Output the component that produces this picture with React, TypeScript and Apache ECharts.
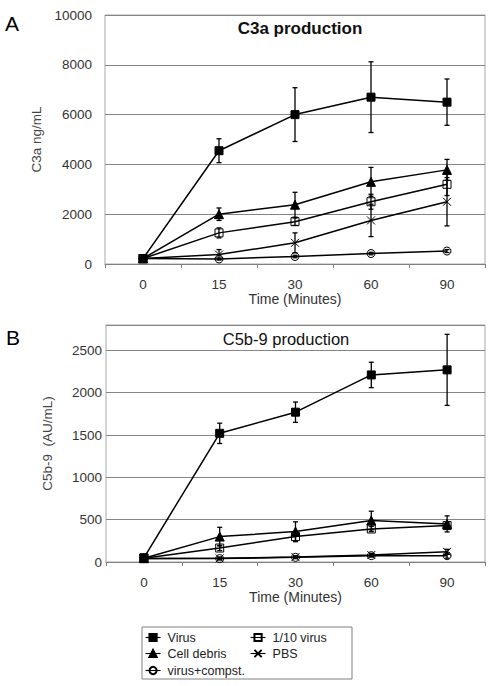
import React, { useEffect, useRef } from "react";
import * as echarts from "echarts";

const categories = ["0", "15", "30", "60", "90"];

const seriesNames = ["Virus", "Cell debris", "1/10 virus", "PBS", "virus+compst."];

// C3a production (ng/mL)
const c3aVirus = [220, 4550, 6000, 6700, 6500];
const c3aVirusErr = [60, 480, 1080, 1420, 930];
const c3aCellDebris = [220, 2000, 2380, 3300, 3780];
const c3aCellDebrisErr = [40, 250, 500, 580, 420];
const c3aTenthVirus = [220, 1250, 1700, 2500, 3200];
const c3aTenthVirusErr = [40, 200, 150, 300, 450];
const c3aPBS = [220, 380, 850, 1750, 2500];
const c3aPBSErr = [40, 200, 400, 650, 970];
const c3aCompst = [220, 200, 300, 420, 520];
const c3aCompstErr = [40, 40, 50, 50, 60];

// C5b-9 production (AU/mL)
const c5bVirus = [50, 1520, 1770, 2210, 2270];
const c5bVirusErr = [20, 120, 120, 150, 420];
const c5bCellDebris = [45, 300, 360, 490, 450];
const c5bCellDebrisErr = [20, 110, 115, 110, 95];
const c5bTenthVirus = [45, 165, 300, 390, 430];
const c5bTenthVirusErr = [20, 30, 60, 30, 40];
const c5bPBS = [40, 43, 58, 82, 120];
const c5bPBSErr = [15, 15, 15, 20, 30];
const c5bCompst = [40, 40, 55, 75, 75];
const c5bCompstErr = [15, 15, 15, 15, 30];

const FONT = "'Liberation Sans', Arial, sans-serif";
const X_PATH = "path://M0,0L10,10M0,10L10,0";

const styles: Record<string, any> = {
  "Virus": { symbol: "rect", symbolSize: 8, itemStyle: { color: "#000", borderColor: "#000", borderWidth: 1 } },
  "Cell debris": { symbol: "triangle", symbolSize: 9, itemStyle: { color: "#000", borderColor: "#000", borderWidth: 1 } },
  "1/10 virus": { symbol: "rect", symbolSize: 8, itemStyle: { color: "rgba(0,0,0,0)", borderColor: "#000", borderWidth: 1 } },
  "PBS": { symbol: X_PATH, symbolSize: 8, itemStyle: { color: "rgba(0,0,0,0)", borderColor: "#000", borderWidth: 1 } },
  "virus+compst.": { symbol: "circle", symbolSize: 8, itemStyle: { color: "rgba(0,0,0,0)", borderColor: "#000", borderWidth: 1 } },
};

function lineSeries(name: string, data: number[], idx: number) {
  const s = styles[name];
  return {
    type: "line",
    name,
    xAxisIndex: idx,
    yAxisIndex: idx,
    data,
    symbol: s.symbol,
    symbolSize: s.symbolSize,
    showAllSymbol: true,
    itemStyle: s.itemStyle,
    lineStyle: { color: "#000", width: 1.5 },
    z: 3,
    emphasis: { disabled: true },
  };
}

function errSeries(vals: number[], errs: number[], idx: number) {
  return {
    type: "custom",
    xAxisIndex: idx,
    yAxisIndex: idx,
    data: vals.map((v, i) => [i, v - errs[i], v + errs[i]]),
    encode: { x: 0, y: [1, 2] },
    z: 4,
    silent: true,
    renderItem: (params: any, api: any) => {
      const x = api.value(0);
      const hi = api.coord([x, api.value(2)]);
      const lo = api.coord([x, api.value(1)]);
      const w = 2.5;
      const st = { stroke: "#000", lineWidth: 1.3 };
      return {
        type: "group",
        children: [
          { type: "line", shape: { x1: hi[0], y1: hi[1], x2: lo[0], y2: lo[1] }, style: st },
          { type: "line", shape: { x1: hi[0] - w, y1: hi[1], x2: hi[0] + w, y2: hi[1] }, style: st },
          { type: "line", shape: { x1: lo[0] - w, y1: lo[1], x2: lo[0] + w, y2: lo[1] }, style: st },
        ],
      };
    },
  };
}

function legendItem(name: string, left: number, top: number) {
  return {
    data: [name],
    left,
    top,
    padding: 0,
    itemWidth: 15,
    itemHeight: 9,
    itemGap: 0,
    selectedMode: false,
    lineStyle: { width: 1.1 },
    textStyle: { fontFamily: FONT, fontSize: 12.5, color: "#222", padding: [0, 0, 0, 2] },
  };
}

const plainNumber = (v: number) => String(v);

export default function App() {
  const ref = useRef<HTMLDivElement>(null);
  useEffect(() => {
    if (!ref.current) return;
    const chart = echarts.init(ref.current, undefined, { renderer: "svg" });
    const xAxisBase = (idx: number, nameGap: number) => ({
      type: "category",
      gridIndex: idx,
      data: categories,
      boundaryGap: true,
      axisLine: { show: true, lineStyle: { color: "#808080", width: 1 } },
      axisTick: { show: true, alignWithLabel: false, length: 4, lineStyle: { color: "#808080" } },
      axisLabel: { color: "#333", fontFamily: FONT, fontSize: 13.5, margin: 13 },
      name: "Time (Minutes)",
      nameLocation: "middle",
      nameGap,
      nameTextStyle: { color: "#333", fontFamily: FONT, fontSize: 14 },
    });
    const option: any = {
      animation: false,
      backgroundColor: "#fff",
      textStyle: { fontFamily: FONT },
      grid: [
        { left: 105, right: 10, top: 15, height: 249, show: true, borderColor: "#a8a8a8", borderWidth: 1, backgroundColor: "transparent" },
        { left: 106, right: 10, top: 325, height: 237, show: true, borderColor: "#a8a8a8", borderWidth: 1, backgroundColor: "transparent" },
      ],
      xAxis: [xAxisBase(0, 27), xAxisBase(1, 26)],
      yAxis: [
        {
          type: "value",
          gridIndex: 0,
          min: 0,
          max: 10000,
          interval: 2000,
          axisLine: { show: false },
          axisTick: { show: false },
          splitLine: { lineStyle: { color: "#858585", width: 1 } },
          axisLabel: { color: "#333", fontFamily: FONT, fontSize: 13.5, margin: 13, formatter: plainNumber },
          name: "C3a ng/mL",
          nameLocation: "middle",
          nameRotate: 90,
          nameGap: 57,
          nameTextStyle: { color: "#444", fontFamily: FONT, fontSize: 13.5 },
        },
        {
          type: "value",
          gridIndex: 1,
          min: 0,
          max: 2800,
          interval: 500,
          axisLine: { show: false },
          axisTick: { show: false },
          splitLine: { lineStyle: { color: "#858585", width: 1 } },
          axisLabel: { color: "#333", fontFamily: FONT, fontSize: 13.5, margin: 4, showMaxLabel: false, formatter: plainNumber },
          name: "C5b-9  (AU/mL)",
          nameLocation: "middle",
          nameRotate: 90,
          nameGap: 52,
          nameTextStyle: { color: "#444", fontFamily: FONT, fontSize: 13.5 },
        },
      ],
      legend: [
        legendItem("Virus", 145, 631),
        legendItem("1/10 virus", 250, 631),
        legendItem("Cell debris", 145, 647),
        legendItem("PBS", 250, 647),
        legendItem("virus+compst.", 145, 664),
      ],
      graphic: [
        { type: "text", x: 5, y: 23, style: { text: "A", fontFamily: FONT, fontSize: 21, fill: "#000", textVerticalAlign: "middle" } },
        { type: "text", x: 6, y: 337, style: { text: "B", fontFamily: FONT, fontSize: 21, fill: "#000", textVerticalAlign: "middle" } },
        { type: "text", x: 300, y: 28, style: { text: "C3a production", fontFamily: FONT, fontSize: 17, fontWeight: "bold", fill: "#111", textAlign: "center", textVerticalAlign: "middle" } },
        { type: "text", x: 286, y: 339, style: { text: "C5b-9 production", fontFamily: FONT, fontSize: 16.5, fill: "#111", textAlign: "center", textVerticalAlign: "middle" } },
        { type: "rect", shape: { x: 142, y: 627, width: 210, height: 52 }, style: { fill: "none", stroke: "#808080", lineWidth: 1 } },
      ],
      series: [
        lineSeries(seriesNames[0], c3aVirus, 0),
        lineSeries(seriesNames[1], c3aCellDebris, 0),
        lineSeries(seriesNames[2], c3aTenthVirus, 0),
        lineSeries(seriesNames[3], c3aPBS, 0),
        lineSeries(seriesNames[4], c3aCompst, 0),
        errSeries(c3aVirus, c3aVirusErr, 0),
        errSeries(c3aCellDebris, c3aCellDebrisErr, 0),
        errSeries(c3aTenthVirus, c3aTenthVirusErr, 0),
        errSeries(c3aPBS, c3aPBSErr, 0),
        errSeries(c3aCompst, c3aCompstErr, 0),
        lineSeries(seriesNames[0], c5bVirus, 1),
        lineSeries(seriesNames[1], c5bCellDebris, 1),
        lineSeries(seriesNames[2], c5bTenthVirus, 1),
        lineSeries(seriesNames[3], c5bPBS, 1),
        lineSeries(seriesNames[4], c5bCompst, 1),
        errSeries(c5bVirus, c5bVirusErr, 1),
        errSeries(c5bCellDebris, c5bCellDebrisErr, 1),
        errSeries(c5bTenthVirus, c5bTenthVirusErr, 1),
        errSeries(c5bPBS, c5bPBSErr, 1),
        errSeries(c5bCompst, c5bCompstErr, 1),
      ],
    };
    chart.setOption(option);
    return () => chart.dispose();
  }, []);
  return (
    <div
      ref={ref}
      style={{ position: "absolute", left: 0, top: 0, width: 495, height: 686, background: "#fff" }}
    />
  );
}
